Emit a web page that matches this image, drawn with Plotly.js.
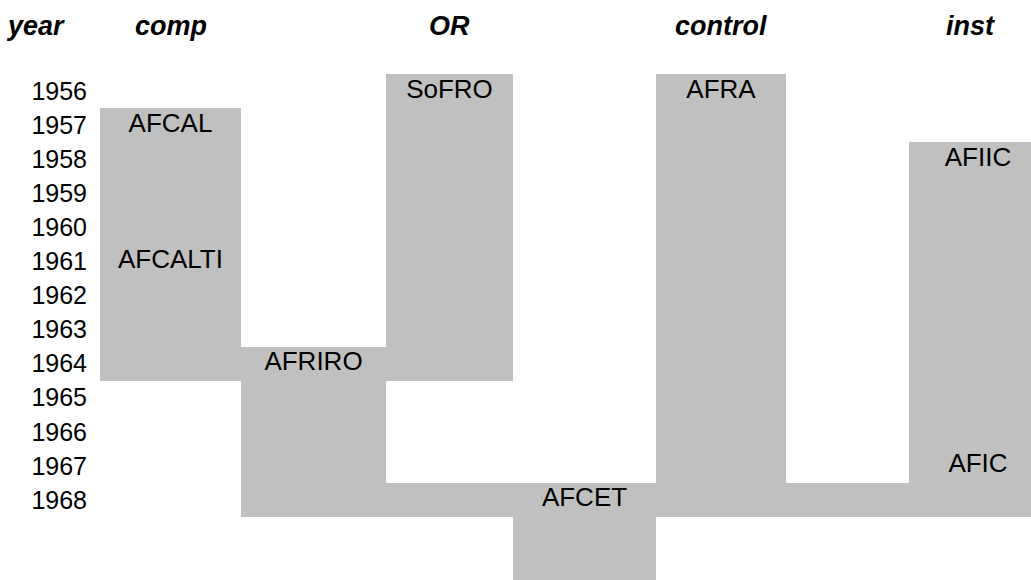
<!DOCTYPE html>
<html>
<head>
<meta charset="utf-8">
<script src="https://cdn.plot.ly/plotly-3.0.1.min.js"></script>
<style>html,body{margin:0;padding:0;background:#fff;}#chart{width:1031px;height:580px;}</style>
</head>
<body>
<div id="chart"></div>
<script>
// ---- data ----
const years = [1956,1957,1958,1959,1960,1961,1962,1963,1964,1965,1966,1967,1968,1969,1970];
const yearTicks = [1956,1957,1958,1959,1960,1961,1962,1963,1964,1965,1966,1967,1968];
const columns = ['comp','comp-OR','OR','OR-control','control','control-inst','inst'];
const headers = ['comp','','OR','','control','','inst'];
const yearHeader = 'year';
// occupied spans (column, first year, last year)
const spanCols  = ['comp','comp-OR','OR','OR','OR-control','control','control-inst','inst'];
const spanStart = [1957,1964,1956,1968,1968,1956,1968,1958];
const spanEnd   = [1964,1968,1964,1968,1970,1968,1968,1968];
// cell labels
const labelText = ['AFCAL','AFCALTI','AFRIRO','SoFRO','AFCET','AFRA','AFIIC','AFIC'];
const labelCols = ['comp','comp','comp-OR','OR','OR-control','control','inst','inst'];
const labelYear = [1957,1961,1964,1956,1968,1956,1958,1967];

// ---- layout config ----
const COL_EDGES = [100,241,386,513,656,786,909,1047];
const FONT = 'Liberation Sans, Arial, sans-serif';
const GRAY = '#c0c0c0';

const colCenter = c => { const i = columns.indexOf(c); return (COL_EDGES[i] + COL_EDGES[i+1]) / 2; };

const z = years.map(y => columns.map(c => {
  for (let k = 0; k < spanCols.length; k++) {
    if (spanCols[k] === c && y >= spanStart[k] && y <= spanEnd[k]) return 1;
  }
  return null;
}));

const heat = {
  type: 'heatmap',
  x: COL_EDGES,
  y: years,
  z: z,
  colorscale: [[0, GRAY], [1, GRAY]],
  zmin: 0, zmax: 1,
  showscale: false,
  hoverinfo: 'skip'
};

const labels = {
  type: 'scatter',
  mode: 'text',
  x: labelCols.map(colCenter),
  y: labelYear,
  text: labelText,
  textposition: 'middle center',
  textfont: {family: FONT, size: 26, color: '#000'},
  cliponaxis: false,
  hoverinfo: 'skip',
  showlegend: false
};

const headFont = {family: FONT, size: 27, color: '#000', weight: 'bold', style: 'italic'};
const headX = {'inst': 970};
const annotations = headers.map((h, i) => ({
  text: h,
  xref: 'x', yref: 'paper',
  x: headX[h] || colCenter(columns[i]), y: 1,
  xanchor: 'center', yanchor: 'middle', yshift: 48,
  showarrow: false,
  font: headFont
})).filter(a => a.text !== '');
annotations.push({
  text: yearHeader, xref: 'paper', yref: 'paper',
  x: (35 - 100) / 931, y: 1, xanchor: 'center', yanchor: 'middle', yshift: 48,
  showarrow: false,
  font: headFont
});

const layout = {
  width: 1031, height: 580,
  margin: {l: 100, r: 0, t: 74, b: 0},
  paper_bgcolor: '#fff', plot_bgcolor: '#fff',
  showlegend: false,
  xaxis: {range: [100, 1031], showgrid: false, zeroline: false, showticklabels: false, ticks: '', fixedrange: true},
  yaxis: {
    range: [1970.35, 1955.5], showgrid: false, zeroline: false,
    tickmode: 'array', tickvals: yearTicks, ticktext: yearTicks.map(String),
    ticks: '', ticklabelstandoff: 12,
    tickfont: {family: FONT, size: 25, color: '#000'}, fixedrange: true
  },
  annotations: annotations,
  font: {family: FONT}
};

Plotly.newPlot('chart', [heat, labels], layout, {displayModeBar: false, staticPlot: true});
</script>
</body>
</html>
